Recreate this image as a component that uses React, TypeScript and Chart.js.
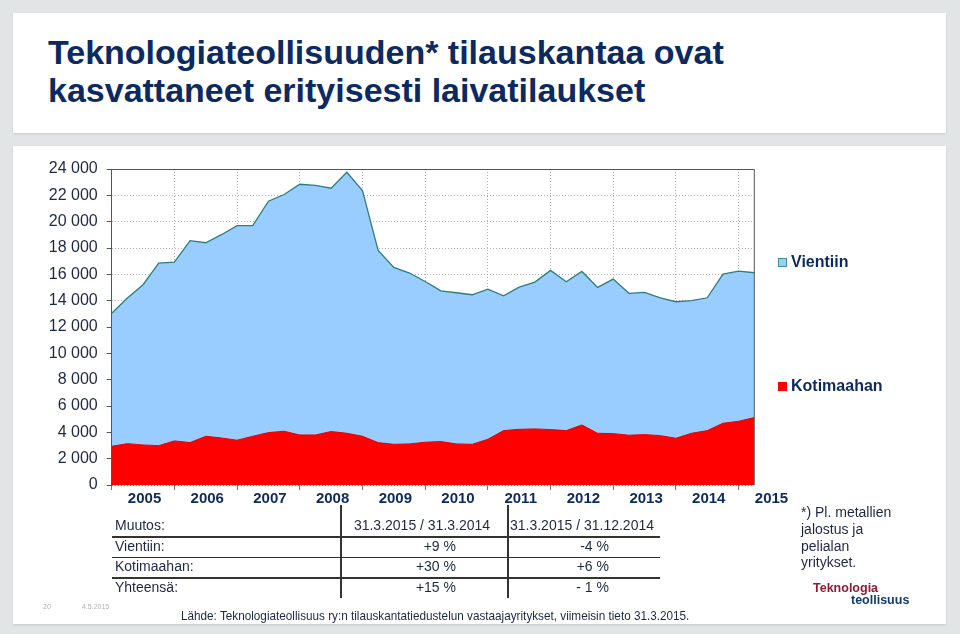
import React, { useEffect, useLayoutEffect, useRef } from 'react';
import { Chart, registerables } from 'chart.js';

Chart.register(...registerables);

// ---- data ----
const years = ['2005', '2006', '2007', '2008', '2009', '2010', '2011', '2012', '2013', '2014', '2015'];

// quarterly order book (MEUR), 42 quarters, last = 31.3.2015
const kotimaahan = [
  2940, 3140, 3040, 2990, 3350, 3220, 3700, 3570, 3400, 3700,
  3980, 4080, 3800, 3800, 4060, 3930, 3700, 3220, 3090, 3120,
  3250, 3300, 3120, 3090, 3470, 4130, 4230, 4260, 4210, 4130,
  4560, 3930, 3900, 3780, 3830, 3750, 3550, 3930, 4130, 4690,
  4840, 5120,
];
const vientiin = [
  10110, 11060, 12170, 13870, 13580, 15340, 14700, 15440, 16300, 16000,
  17570, 17980, 19040, 18960, 18480, 19820, 18660, 14600, 13440, 12980,
  12210, 11450, 11480, 11360, 11410, 10240, 10800, 11150, 12090, 11310,
  11660, 11080, 11740, 10780, 10800, 10470, 10370, 10070, 10090, 11330,
  11410, 11000,
];

const tableHeader = ['Muutos:', '31.3.2015 / 31.3.2014', '31.3.2015 / 31.12.2014'];
const tableRows = [
  ['Vientiin:', '+9 %', '-4 %'],
  ['Kotimaahan:', '+30 %', '+6 %'],
  ['Yhteensä:', '+15 %', '- 1 %'],
];

const FONT = '"Liberation Sans", Arial, Helvetica, sans-serif';
const NAVY = '#0c2a5f';
const TEXT = '#1d2844';

function fmt(v: number) {
  const s = String(Math.round(v));
  return s.replace(/\B(?=(\d{3})+(?!\d))/g, ' ');
}

function T(props: {
  x: number; base: number; size: number; children: React.ReactNode;
  bold?: boolean; color?: string; align?: 'left' | 'right' | 'center';
}) {
  const { x, base, size, bold, color, align = 'left' } = props;
  const top = base - 0.8465 * size;
  const style: React.CSSProperties = {
    position: 'absolute', top, fontSize: size, lineHeight: `${size}px`,
    fontWeight: bold ? 'bold' : 'normal', color: color || TEXT,
    whiteSpace: 'nowrap', fontFamily: FONT,
  };
  if (align === 'left') style.left = x;
  else if (align === 'right') style.right = 960 - x;
  else { style.left = x; style.transform = 'translateX(-50%)'; }
  return <div style={style}>{props.children}</div>;
}

const framePlugin = {
  id: 'frameAndYears',
  afterDatasetsDraw(chart: any) {
    const { ctx, chartArea } = chart;
    const ys = chart.scales.y;
    ctx.save();
    // dotted zero line visible over the red area
    ctx.strokeStyle = 'rgba(120,0,0,0.45)';
    ctx.setLineDash([1, 2]);
    ctx.beginPath();
    const y0 = Math.round(ys.getPixelForValue(0)) + 0.5;
    ctx.moveTo(chartArea.left, y0);
    ctx.lineTo(chartArea.right, y0);
    ctx.stroke();
    ctx.setLineDash([]);
    ctx.strokeStyle = '#555555';
    ctx.lineWidth = 1;
    ctx.beginPath();
    ctx.moveTo(chartArea.left, chartArea.top + 0.5);
    ctx.lineTo(chartArea.right, chartArea.top + 0.5);
    ctx.lineTo(chartArea.right, chartArea.bottom);
    ctx.stroke();
    ctx.restore();
  },
  afterDraw(chart: any) {
    const { ctx } = chart;
    const xs = chart.scales.x;
    ctx.save();
    ctx.font = `bold 15px ${FONT}`;
    ctx.fillStyle = NAVY;
    ctx.textAlign = 'center';
    ctx.textBaseline = 'alphabetic';
    years.forEach((y, k) => {
      const px = xs.getPixelForValue(2 + 4 * k);
      ctx.fillText(y, px + 1.5, 503);
    });
    ctx.restore();
  },
};

export default function App() {
  const ref = useRef<HTMLCanvasElement | null>(null);
  const srcRef = useRef<HTMLSpanElement | null>(null);

  useLayoutEffect(() => {
    const el = srcRef.current;
    if (el) {
      const w = el.scrollWidth;
      if (w > 0) el.style.transform = `scaleX(${508 / w})`;
    }
  }, []);

  useEffect(() => {
    if (!ref.current) return;
    const gridColor = '#b0b0b0';
    const chart = new Chart(ref.current, {
      type: 'line',
      data: {
        datasets: [
          {
            label: 'Kotimaahan',
            data: kotimaahan.map((v, i) => ({ x: i, y: v })),
            fill: 'origin',
            backgroundColor: '#ff0000',
            borderColor: '#e60000',
            borderWidth: 1,
            pointRadius: 0,
            tension: 0,
          },
          {
            label: 'Vientiin',
            data: vientiin.map((v, i) => ({ x: i, y: v })),
            fill: '-1',
            backgroundColor: '#99ccff',
            borderColor: '#2f7f78',
            borderWidth: 1.3,
            pointRadius: 0,
            tension: 0,
          },
        ],
      },
      options: {
        responsive: false,
        animation: false,
        events: [],
        layout: { padding: { left: 0, top: 169, right: 205.7, bottom: 129 } },
        plugins: {
          legend: { display: false },
          tooltip: { enabled: false },
          title: { display: false },
        },
        scales: {
          x: {
            type: 'linear',
            min: 0,
            max: kotimaahan.length - 1,
            afterBuildTicks: (s: any) => {
              s.ticks = years.map((_, k) => ({ value: 4 * k })).filter((t) => t.value <= kotimaahan.length - 1);
            },
            afterFit: (s: any) => { s.height = 20; },
            ticks: { callback: () => '', font: { size: 1 } },
            grid: { color: gridColor, lineWidth: 1, tickColor: '#777', tickLength: 5 },
            border: { display: false, dash: [1, 2] },
          },
          y: {
            stacked: true,
            min: 0,
            max: 24000,
            afterFit: (s: any) => { s.width = 111.7; },
            ticks: {
              stepSize: 2000,
              callback: (v: any) => fmt(Number(v)),
              font: { family: FONT, size: 16 },
              color: TEXT,
              padding: 9,
            },
            grid: { color: gridColor, lineWidth: 1, tickColor: '#555', tickLength: 5 },
            border: { display: true, color: '#555', width: 1, dash: [1, 2] },
          },
        },
      },
      plugins: [framePlugin],
    } as any);
    return () => chart.destroy();
  }, []);

  const panel: React.CSSProperties = {
    position: 'absolute', background: '#ffffff',
    boxShadow: '0 1px 2px rgba(0,0,0,0.12)',
  };
  const hLine = (y: number): React.CSSProperties => ({
    position: 'absolute', left: 112, width: 548, top: y, height: 1.5, background: '#333',
  });
  const vLine = (x: number): React.CSSProperties => ({
    position: 'absolute', left: x, top: 505, width: 1.5, height: 93, background: '#333',
  });

  const rowBase = [551, 571, 592];

  return (
    <div style={{ position: 'fixed', left: 0, top: 0, width: 960, height: 634, background: '#e2e5e5', overflow: 'hidden', fontFamily: FONT }}>
      <div style={{ ...panel, left: 13, top: 13, width: 933, height: 120 }} />
      <div style={{ ...panel, left: 13, top: 146, width: 933, height: 478 }} />

      <div style={{ position: 'absolute', left: 48, top: 33, fontSize: 34, lineHeight: '38px', fontWeight: 'bold', color: NAVY, whiteSpace: 'nowrap' }}>
        Teknologiateollisuuden* tilauskantaa ovat<br />kasvattaneet erityisesti laivatilaukset
      </div>

      <canvas ref={ref} width={960} height={634} style={{ position: 'absolute', left: 0, top: 0, width: 960, height: 634 }} />

      {/* legend */}
      <div style={{ position: 'absolute', left: 778, top: 258, width: 6.5, height: 6.5, background: '#99ccff', border: '1px solid #3f8f8a' }} />
      <T x={791} base={268} size={16} bold color={NAVY}>Vientiin</T>
      <div style={{ position: 'absolute', left: 778, top: 382, width: 8.5, height: 8.5, background: '#ff0000' }} />
      <T x={791} base={392} size={16} bold color={NAVY}>Kotimaahan</T>

      {/* table */}
      <div style={vLine(340)} />
      <div style={vLine(507)} />
      <div style={hLine(536)} />
      <div style={hLine(556.5)} />
      <div style={hLine(577)} />
      <T x={115} base={530} size={14}>{tableHeader[0]}</T>
      <T x={422} base={530} size={14} align="center">{tableHeader[1]}</T>
      <T x={582} base={530} size={14} align="center">{tableHeader[2]}</T>
      {tableRows.map((r, i) => (
        <React.Fragment key={r[0]}>
          <T x={115} base={rowBase[i]} size={14}>{r[0]}</T>
          <T x={456} base={rowBase[i]} size={14} align="right">{r[1]}</T>
          <T x={609} base={rowBase[i]} size={14} align="right">{r[2]}</T>
        </React.Fragment>
      ))}

      {/* footnote */}
      <T x={801} base={517} size={14}>*) Pl. metallien</T>
      <T x={801} base={534} size={14}>jalostus ja</T>
      <T x={801} base={551} size={14}>pelialan</T>
      <T x={801} base={567} size={14}>yritykset.</T>

      {/* logo */}
      <T x={813} base={593} size={12.5} bold color="#8c1c32">Teknologia</T>
      <T x={851} base={605} size={12.5} bold color="#123b70">teollisuus</T>

      {/* page info */}
      <T x={43} base={609} size={7} color="#b0b0b0">20</T>
      <T x={82} base={609} size={7} color="#b0b0b0">4.5.2015</T>

      {/* source */}
      <div style={{ position: 'absolute', left: 181, top: 620 - 0.8465 * 13, fontSize: 13, lineHeight: '13px', color: TEXT, whiteSpace: 'nowrap' }}>
        <span ref={srcRef} style={{ display: 'inline-block', transformOrigin: 'left center' }}>
          Lähde: Teknologiateollisuus ry:n tilauskantatiedustelun vastaajayritykset, viimeisin tieto 31.3.2015.
        </span>
      </div>
    </div>
  );
}
